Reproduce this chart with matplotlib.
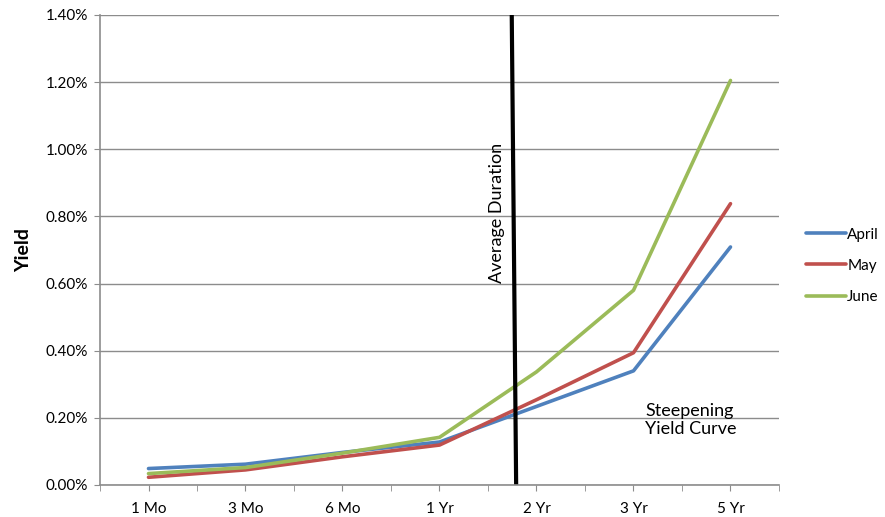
import numpy as np
import matplotlib
matplotlib.use("Agg")
import matplotlib.pyplot as plt
from matplotlib.ticker import FuncFormatter, MultipleLocator

plt.rcParams["font.family"] = ["Lato", "DejaVu Sans"]

# --- data (yield, %) -----------------------------------------------------
maturities = ["1 Mo", "3 Mo", "6 Mo", "1 Yr", "2 Yr", "3 Yr", "5 Yr"]
april = [0.049, 0.062, 0.097, 0.128, 0.234, 0.340, 0.709]
may   = [0.023, 0.045, 0.084, 0.119, 0.254, 0.394, 0.838]
june  = [0.034, 0.052, 0.095, 0.142, 0.337, 0.580, 1.205]

# average-duration marker (category index, yield %)
dur_x = [3.745, 3.79]
dur_y = [1.395, 0.005]

colors = {"April": "#4F81BD", "May": "#C0504D", "June": "#9BBB59"}
grid_c = "#8C8C8C"

fig = plt.figure(figsize=(8.85, 5.17), dpi=100)
ax = fig.add_axes([100 / 885, 32 / 517, 679 / 885, 470 / 517])

x = np.arange(len(maturities))
for name, vals in [("April", april), ("May", may), ("June", june)]:
    ax.plot(x, vals, color=colors[name], linewidth=2.6, label=name,
            solid_capstyle="round", solid_joinstyle="round")

ax.plot(dur_x, dur_y, color="black", linewidth=3.0)
ax.text(3.59, 0.81, "Average Duration", rotation=90, ha="center", va="center",
        fontsize=13)
ax.text(5.12, 0.195, "Steepening\nYield Curve", ha="left", va="center",
        fontsize=13, linespacing=1.15)

ax.set_xlim(-0.5, 6.5)
ax.set_ylim(0, 1.4)
ax.set_xticks(x)
ax.set_xticklabels(maturities)
ax.set_xticks(np.arange(-0.5, 7, 1.0), minor=True)
ax.yaxis.set_major_locator(MultipleLocator(0.2))
ax.yaxis.set_major_formatter(FuncFormatter(lambda v, _: f"{v:.2f}%"))

ax.grid(axis="y", color=grid_c, linewidth=1.0)
ax.set_axisbelow(True)
for s in ["top", "right"]:
    ax.spines[s].set_visible(False)
for s in ["left", "bottom"]:
    ax.spines[s].set_color(grid_c)
    ax.spines[s].set_linewidth(1.2)

ax.tick_params(axis="x", which="both", direction="out", length=4.5,
               color=grid_c, labelsize=11, pad=8)
ax.tick_params(axis="y", direction="out", length=4.5, color=grid_c,
               labelsize=11, pad=4)
ax.set_ylabel("Yield", fontsize=14, fontweight="bold", labelpad=10)

fig.legend(loc="center left", bbox_to_anchor=(806 / 885, 0.486),
           frameon=False, fontsize=11, handlelength=2.6, handletextpad=0.1,
           labelspacing=1.12, borderpad=0, borderaxespad=0)

fig.savefig("out.png", dpi=100)
